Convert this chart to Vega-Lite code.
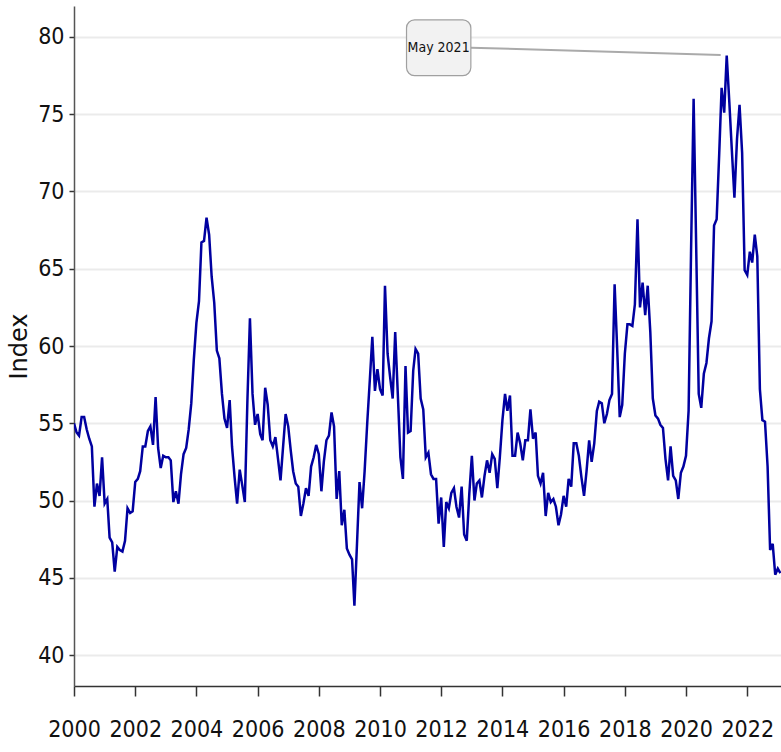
{
  "$schema": "https://vega.github.io/schema/vega-lite/v6.json",
  "width": 707,
  "height": 680,
  "autosize": "none",
  "padding": {"left": 74, "top": 6, "right": 0, "bottom": 66},
  "background": "white",
  "config": {
    "view": {"stroke": null},
    "axis": {
      "labelFont": "DejaVu Sans Condensed, Liberation Sans",
      "labelFontSize": 23,
      "labelColor": "#111",
      "titleFont": "DejaVu Sans",
      "titleFontWeight": "normal",
      "titleColor": "#111"
    }
  },
  "datasets": {
    "series": [
      {"date": "2000-01-01", "v": 55.0}, {"date": "2000-02-01", "v": 54.4}, {"date": "2000-03-01", "v": 54.2}, {"date": "2000-04-01", "v": 55.4},
      {"date": "2000-05-01", "v": 55.4}, {"date": "2000-06-01", "v": 54.6}, {"date": "2000-07-01", "v": 54.0}, {"date": "2000-08-01", "v": 53.5},
      {"date": "2000-09-01", "v": 49.6}, {"date": "2000-10-01", "v": 51.1}, {"date": "2000-11-01", "v": 50.3}, {"date": "2000-12-01", "v": 52.8},
      {"date": "2001-01-01", "v": 49.8}, {"date": "2001-02-01", "v": 50.1}, {"date": "2001-03-01", "v": 47.6}, {"date": "2001-04-01", "v": 47.3},
      {"date": "2001-05-01", "v": 45.4}, {"date": "2001-06-01", "v": 47.0}, {"date": "2001-07-01", "v": 46.8}, {"date": "2001-08-01", "v": 46.7},
      {"date": "2001-09-01", "v": 47.4}, {"date": "2001-10-01", "v": 49.5}, {"date": "2001-11-01", "v": 49.2}, {"date": "2001-12-01", "v": 49.3},
      {"date": "2002-01-01", "v": 51.2}, {"date": "2002-02-01", "v": 51.4}, {"date": "2002-03-01", "v": 51.9}, {"date": "2002-04-01", "v": 53.5},
      {"date": "2002-05-01", "v": 53.5}, {"date": "2002-06-01", "v": 54.5}, {"date": "2002-07-01", "v": 54.8}, {"date": "2002-08-01", "v": 53.6},
      {"date": "2002-09-01", "v": 56.7}, {"date": "2002-10-01", "v": 53.4}, {"date": "2002-11-01", "v": 52.1}, {"date": "2002-12-01", "v": 52.9},
      {"date": "2003-01-01", "v": 52.8}, {"date": "2003-02-01", "v": 52.8}, {"date": "2003-03-01", "v": 52.6}, {"date": "2003-04-01", "v": 49.9},
      {"date": "2003-05-01", "v": 50.6}, {"date": "2003-06-01", "v": 49.8}, {"date": "2003-07-01", "v": 51.7}, {"date": "2003-08-01", "v": 53.0},
      {"date": "2003-09-01", "v": 53.4}, {"date": "2003-10-01", "v": 54.6}, {"date": "2003-11-01", "v": 56.3}, {"date": "2003-12-01", "v": 59.1},
      {"date": "2004-01-01", "v": 61.5}, {"date": "2004-02-01", "v": 62.9}, {"date": "2004-03-01", "v": 66.7}, {"date": "2004-04-01", "v": 66.8},
      {"date": "2004-05-01", "v": 68.3}, {"date": "2004-06-01", "v": 67.2}, {"date": "2004-07-01", "v": 64.5}, {"date": "2004-08-01", "v": 62.8},
      {"date": "2004-09-01", "v": 59.7}, {"date": "2004-10-01", "v": 59.2}, {"date": "2004-11-01", "v": 56.9}, {"date": "2004-12-01", "v": 55.3},
      {"date": "2005-01-01", "v": 54.7}, {"date": "2005-02-01", "v": 56.5}, {"date": "2005-03-01", "v": 53.5}, {"date": "2005-04-01", "v": 51.5},
      {"date": "2005-05-01", "v": 49.8}, {"date": "2005-06-01", "v": 52.0}, {"date": "2005-07-01", "v": 51.0}, {"date": "2005-08-01", "v": 49.9},
      {"date": "2005-09-01", "v": 56.5}, {"date": "2005-10-01", "v": 61.8}, {"date": "2005-11-01", "v": 56.9}, {"date": "2005-12-01", "v": 54.9},
      {"date": "2006-01-01", "v": 55.6}, {"date": "2006-02-01", "v": 54.3}, {"date": "2006-03-01", "v": 53.9}, {"date": "2006-04-01", "v": 57.3},
      {"date": "2006-05-01", "v": 56.2}, {"date": "2006-06-01", "v": 53.9}, {"date": "2006-07-01", "v": 53.5}, {"date": "2006-08-01", "v": 54.1},
      {"date": "2006-09-01", "v": 52.7}, {"date": "2006-10-01", "v": 51.3}, {"date": "2006-11-01", "v": 53.5}, {"date": "2006-12-01", "v": 55.6},
      {"date": "2007-01-01", "v": 54.8}, {"date": "2007-02-01", "v": 53.2}, {"date": "2007-03-01", "v": 51.9}, {"date": "2007-04-01", "v": 51.1},
      {"date": "2007-05-01", "v": 50.9}, {"date": "2007-06-01", "v": 49.0}, {"date": "2007-07-01", "v": 49.8}, {"date": "2007-08-01", "v": 50.8},
      {"date": "2007-09-01", "v": 50.3}, {"date": "2007-10-01", "v": 52.2}, {"date": "2007-11-01", "v": 52.8}, {"date": "2007-12-01", "v": 53.6},
      {"date": "2008-01-01", "v": 53.0}, {"date": "2008-02-01", "v": 50.6}, {"date": "2008-03-01", "v": 52.5}, {"date": "2008-04-01", "v": 53.9},
      {"date": "2008-05-01", "v": 54.2}, {"date": "2008-06-01", "v": 55.7}, {"date": "2008-07-01", "v": 54.8}, {"date": "2008-08-01", "v": 50.1},
      {"date": "2008-09-01", "v": 51.9}, {"date": "2008-10-01", "v": 48.4}, {"date": "2008-11-01", "v": 49.4}, {"date": "2008-12-01", "v": 46.9},
      {"date": "2009-01-01", "v": 46.5}, {"date": "2009-02-01", "v": 46.2}, {"date": "2009-03-01", "v": 43.2}, {"date": "2009-04-01", "v": 47.2},
      {"date": "2009-05-01", "v": 51.2}, {"date": "2009-06-01", "v": 49.5}, {"date": "2009-07-01", "v": 51.9}, {"date": "2009-08-01", "v": 55.0},
      {"date": "2009-09-01", "v": 57.8}, {"date": "2009-10-01", "v": 60.6}, {"date": "2009-11-01", "v": 57.1}, {"date": "2009-12-01", "v": 58.5},
      {"date": "2010-01-01", "v": 57.2}, {"date": "2010-02-01", "v": 56.8}, {"date": "2010-03-01", "v": 63.9}, {"date": "2010-04-01", "v": 59.5},
      {"date": "2010-05-01", "v": 58.0}, {"date": "2010-06-01", "v": 56.6}, {"date": "2010-07-01", "v": 60.9}, {"date": "2010-08-01", "v": 56.9},
      {"date": "2010-09-01", "v": 52.8}, {"date": "2010-10-01", "v": 51.4}, {"date": "2010-11-01", "v": 58.7}, {"date": "2010-12-01", "v": 54.4},
      {"date": "2011-01-01", "v": 54.5}, {"date": "2011-02-01", "v": 58.4}, {"date": "2011-03-01", "v": 59.8}, {"date": "2011-04-01", "v": 59.5},
      {"date": "2011-05-01", "v": 56.6}, {"date": "2011-06-01", "v": 55.9}, {"date": "2011-07-01", "v": 52.8}, {"date": "2011-08-01", "v": 53.1},
      {"date": "2011-09-01", "v": 51.7}, {"date": "2011-10-01", "v": 51.4}, {"date": "2011-11-01", "v": 51.4}, {"date": "2011-12-01", "v": 48.5},
      {"date": "2012-01-01", "v": 50.2}, {"date": "2012-02-01", "v": 47.0}, {"date": "2012-03-01", "v": 49.9}, {"date": "2012-04-01", "v": 49.5},
      {"date": "2012-05-01", "v": 50.5}, {"date": "2012-06-01", "v": 50.8}, {"date": "2012-07-01", "v": 49.6}, {"date": "2012-08-01", "v": 48.9},
      {"date": "2012-09-01", "v": 50.9}, {"date": "2012-10-01", "v": 47.8}, {"date": "2012-11-01", "v": 47.4}, {"date": "2012-12-01", "v": 50.4},
      {"date": "2013-01-01", "v": 52.9}, {"date": "2013-02-01", "v": 50.0}, {"date": "2013-03-01", "v": 51.1}, {"date": "2013-04-01", "v": 51.3},
      {"date": "2013-05-01", "v": 50.2}, {"date": "2013-06-01", "v": 51.6}, {"date": "2013-07-01", "v": 52.6}, {"date": "2013-08-01", "v": 51.8},
      {"date": "2013-09-01", "v": 53.0}, {"date": "2013-10-01", "v": 52.7}, {"date": "2013-11-01", "v": 50.8}, {"date": "2013-12-01", "v": 52.8},
      {"date": "2014-01-01", "v": 55.2}, {"date": "2014-02-01", "v": 56.9}, {"date": "2014-03-01", "v": 55.8}, {"date": "2014-04-01", "v": 56.8},
      {"date": "2014-05-01", "v": 52.9}, {"date": "2014-06-01", "v": 52.9}, {"date": "2014-07-01", "v": 54.4}, {"date": "2014-08-01", "v": 53.7},
      {"date": "2014-09-01", "v": 52.6}, {"date": "2014-10-01", "v": 53.9}, {"date": "2014-11-01", "v": 53.9}, {"date": "2014-12-01", "v": 55.9},
      {"date": "2015-01-01", "v": 54.0}, {"date": "2015-02-01", "v": 54.4}, {"date": "2015-03-01", "v": 51.6}, {"date": "2015-04-01", "v": 51.1},
      {"date": "2015-05-01", "v": 51.8}, {"date": "2015-06-01", "v": 49.0}, {"date": "2015-07-01", "v": 50.5}, {"date": "2015-08-01", "v": 49.9},
      {"date": "2015-09-01", "v": 50.1}, {"date": "2015-10-01", "v": 49.6}, {"date": "2015-11-01", "v": 48.4}, {"date": "2015-12-01", "v": 49.1},
      {"date": "2016-01-01", "v": 50.3}, {"date": "2016-02-01", "v": 49.6}, {"date": "2016-03-01", "v": 51.4}, {"date": "2016-04-01", "v": 50.9},
      {"date": "2016-05-01", "v": 53.7}, {"date": "2016-06-01", "v": 53.7}, {"date": "2016-07-01", "v": 52.9}, {"date": "2016-08-01", "v": 51.5},
      {"date": "2016-09-01", "v": 50.3}, {"date": "2016-10-01", "v": 51.9}, {"date": "2016-11-01", "v": 53.9}, {"date": "2016-12-01", "v": 52.5},
      {"date": "2017-01-01", "v": 53.7}, {"date": "2017-02-01", "v": 55.8}, {"date": "2017-03-01", "v": 56.4}, {"date": "2017-04-01", "v": 56.3},
      {"date": "2017-05-01", "v": 55.0}, {"date": "2017-06-01", "v": 55.6}, {"date": "2017-07-01", "v": 56.5}, {"date": "2017-08-01", "v": 56.9},
      {"date": "2017-09-01", "v": 64.0}, {"date": "2017-10-01", "v": 59.9}, {"date": "2017-11-01", "v": 55.4}, {"date": "2017-12-01", "v": 56.2},
      {"date": "2018-01-01", "v": 59.5}, {"date": "2018-02-01", "v": 61.4}, {"date": "2018-03-01", "v": 61.4}, {"date": "2018-04-01", "v": 61.3},
      {"date": "2018-05-01", "v": 62.7}, {"date": "2018-06-01", "v": 68.2}, {"date": "2018-07-01", "v": 62.5}, {"date": "2018-08-01", "v": 64.1},
      {"date": "2018-09-01", "v": 62.0}, {"date": "2018-10-01", "v": 63.9}, {"date": "2018-11-01", "v": 60.9}, {"date": "2018-12-01", "v": 56.6},
      {"date": "2019-01-01", "v": 55.5}, {"date": "2019-02-01", "v": 55.3}, {"date": "2019-03-01", "v": 54.9}, {"date": "2019-04-01", "v": 54.7},
      {"date": "2019-05-01", "v": 52.7}, {"date": "2019-06-01", "v": 51.3}, {"date": "2019-07-01", "v": 53.5}, {"date": "2019-08-01", "v": 51.6},
      {"date": "2019-09-01", "v": 51.3}, {"date": "2019-10-01", "v": 50.1}, {"date": "2019-11-01", "v": 51.8}, {"date": "2019-12-01", "v": 52.2},
      {"date": "2020-01-01", "v": 52.9}, {"date": "2020-02-01", "v": 55.8}, {"date": "2020-03-01", "v": 66.0}, {"date": "2020-04-01", "v": 76.0},
      {"date": "2020-05-01", "v": 66.6}, {"date": "2020-06-01", "v": 56.9}, {"date": "2020-07-01", "v": 56.0}, {"date": "2020-08-01", "v": 58.2},
      {"date": "2020-09-01", "v": 58.9}, {"date": "2020-10-01", "v": 60.5}, {"date": "2020-11-01", "v": 61.6}, {"date": "2020-12-01", "v": 67.8},
      {"date": "2021-01-01", "v": 68.2}, {"date": "2021-02-01", "v": 72.5}, {"date": "2021-03-01", "v": 76.7}, {"date": "2021-04-01", "v": 75.1},
      {"date": "2021-05-01", "v": 78.8}, {"date": "2021-06-01", "v": 75.8}, {"date": "2021-07-01", "v": 72.7}, {"date": "2021-08-01", "v": 69.6},
      {"date": "2021-09-01", "v": 73.4}, {"date": "2021-10-01", "v": 75.6}, {"date": "2021-11-01", "v": 72.5}, {"date": "2021-12-01", "v": 64.9},
      {"date": "2022-01-01", "v": 64.6}, {"date": "2022-02-01", "v": 66.1}, {"date": "2022-03-01", "v": 65.4}, {"date": "2022-04-01", "v": 67.2},
      {"date": "2022-05-01", "v": 65.8}, {"date": "2022-06-01", "v": 57.2}, {"date": "2022-07-01", "v": 55.2}, {"date": "2022-08-01", "v": 55.1},
      {"date": "2022-09-01", "v": 52.2}, {"date": "2022-10-01", "v": 46.8}, {"date": "2022-11-01", "v": 47.2}, {"date": "2022-12-01", "v": 45.2},
      {"date": "2023-01-01", "v": 45.6}, {"date": "2023-02-01", "v": 45.3}
    ],
    "connector": [{"date": "2012-12-20", "date2": "2021-02-18", "v": 79.3, "v2": 78.83}],
    "box": [{"date": "2010-11-13", "date2": "2012-12-20", "v": 81.1, "v2": 77.5}],
    "label": [{"date": "2011-12-01", "v": 79.3, "text": "May 2021"}]
  },
  "layer": [
    {
      "data": {"name": "series"},
      "mark": {"type": "line", "color": "#0000a0", "strokeWidth": 2.5, "clip": true},
      "encoding": {
        "x": {
          "field": "date", "type": "temporal", "title": null,
          "scale": {"type": "utc", "domain": ["2000-01-01", "2023-02-08"], "nice": false},
          "axis": {
            "format": "%Y", "tickCount": {"interval": "year", "step": 2},
            "grid": false, "domain": true, "domainColor": "#333", "domainWidth": 1.5,
            "ticks": true, "tickColor": "#333", "tickSize": 10, "tickWidth": 1.5,
            "labelPadding": 22, "labelFlush": false, "labelOverlap": false
          }
        },
        "y": {
          "field": "v", "type": "quantitative", "title": "Index",
          "scale": {"domain": [38, 82], "nice": false, "zero": false},
          "axis": {
            "values": [40, 45, 50, 55, 60, 65, 70, 75, 80],
            "grid": true, "gridColor": "#ebebeb", "gridWidth": 2,
            "domain": true, "domainColor": "#555", "domainWidth": 1.5,
            "ticks": true, "tickColor": "#333", "tickSize": 5, "tickWidth": 1.5,
            "labelPadding": 5, "titleFontSize": 24, "titlePadding": 6
          }
        }
      }
    },
    {
      "data": {"name": "connector"},
      "mark": {"type": "rule", "color": "#aaaaaa", "strokeWidth": 2},
      "encoding": {
        "x": {"field": "date", "type": "temporal", "title": null},
        "x2": {"field": "date2"},
        "y": {"field": "v", "type": "quantitative", "title": "Index"},
        "y2": {"field": "v2"}
      }
    },
    {
      "data": {"name": "box"},
      "mark": {"type": "rect", "fill": "#f2f2f2", "stroke": "#a0a0a0", "strokeWidth": 1.2, "cornerRadius": 8},
      "encoding": {
        "x": {"field": "date", "type": "temporal", "title": null},
        "x2": {"field": "date2"},
        "y": {"field": "v", "type": "quantitative", "title": "Index"},
        "y2": {"field": "v2"}
      }
    },
    {
      "data": {"name": "label"},
      "mark": {"type": "text", "font": "DejaVu Sans Condensed, Liberation Sans", "fontSize": 14, "color": "#111", "align": "center", "baseline": "middle"},
      "encoding": {
        "x": {"field": "date", "type": "temporal", "title": null},
        "y": {"field": "v", "type": "quantitative", "title": "Index"},
        "text": {"field": "text"}
      }
    }
  ]
}
